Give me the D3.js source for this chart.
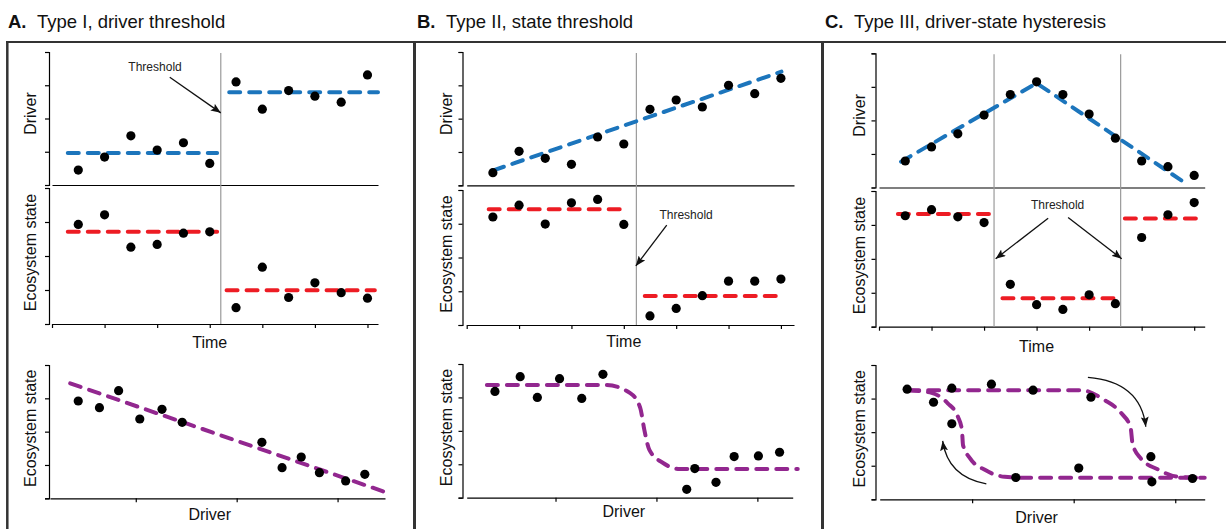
<!DOCTYPE html>
<html>
<head>
<meta charset="utf-8">
<script src="https://cdnjs.cloudflare.com/ajax/libs/d3/7.8.5/d3.min.js"></script>
<style>
  body { margin: 0; background: #fff; }
  svg { display: block; font-family: "Liberation Sans", Arial, sans-serif; }
  .axis path, .axis line { stroke: #000; stroke-width: 1.2; }
</style>
</head>
<body>
<div id="chart"></div>
<script>
// Data
// ================================
var timeTicks = [0, 1, 2, 3, 4, 5, 6];
var stateTicks = [0, 1, 2, 3, 4];
var driverTicks = [1, 2, 3];
var sampleTimes = [0.5, 1, 1.5, 2, 2.5, 3, 3.5, 4, 4.5, 5, 5.5, 6];

// A. Type I, driver threshold
var aDriver = [0.45, 0.84, 1.48, 1.05, 1.27, 0.65, 3.10, 2.28, 2.84, 2.67, 2.49, 3.31];
var aDriverFit = [[[0.3, 0.96], [3.14, 0.96]], [[3.37, 2.79], [6.2, 2.79]]];
var aState = [2.93, 3.21, 2.26, 2.34, 2.67, 2.71, 0.48, 1.67, 0.78, 1.21, 0.92, 0.76];
var aStateFit = [[[0.3, 2.71], [3.14, 2.71]], [[3.32, 0.99], [6.14, 0.99]]];
var aThresholds = [3.21];
var aRespDriver = [0.43, 0.64, 0.83, 1.04, 1.26, 1.46, 2.25, 2.45, 2.64, 2.82, 3.08, 3.27];
var aRespState = [2.92, 2.72, 3.23, 2.38, 2.67, 2.28, 1.68, 0.92, 1.24, 0.77, 0.52, 0.72];
var aRespFit = [[[0.35, 3.45], [3.46, 0.2]]];

// B. Type II, state threshold
var bDriver = [0.38, 1.02, 0.81, 0.63, 1.45, 1.24, 2.28, 2.56, 2.35, 3.00, 2.75, 3.21];
var bDriverFit = [[[0.51, 0.45], [6.01, 3.41]]];
var bState = [3.20, 3.55, 2.99, 3.62, 3.72, 2.98, 0.27, 0.49, 0.87, 1.30, 1.30, 1.36];
var bStateFit = [[[0.42, 3.43], [3.02, 3.43]], [[3.4, 0.86], [5.99, 0.86]]];
var bThresholds = [3.24];
var bRespDriver = [0.40, 0.65, 0.82, 1.04, 1.26, 1.47, 2.30, 2.38, 2.59, 2.77, 3.01, 3.22];
var bRespState = [3.18, 3.62, 3.00, 3.56, 2.97, 3.69, 0.25, 0.87, 0.46, 1.23, 1.25, 1.36];
var bRespFit = [[[0.32, 3.37], [1.50, 3.37], [1.74, 3.13], [1.84, 2.68], [1.88, 2.03],
                 [1.93, 1.43], [2.07, 1.03], [2.23, 0.86], [3.40, 0.86]]];

// C. Type III, driver-state hysteresis
var cDriver = [0.79, 1.21, 1.60, 2.16, 2.77, 3.15, 2.77, 2.19, 1.47, 0.79, 0.62, 0.36];
var cDriverFit = [[[0.42, 0.77], [3.0, 3.11], [5.89, 0.07]]];
var cState = [3.27, 3.45, 3.24, 3.07, 1.25, 0.65, 0.51, 0.94, 0.68, 2.63, 3.30, 3.66];
var cStateFit = [[[0.36, 3.32], [2.19, 3.32]], [[2.35, 0.84], [4.52, 0.84]], [[4.68, 3.19], [6.14, 3.19]]];
var cThresholds = [2.19, 4.6];
var cRespDriver = [0.36, 0.62, 0.80, 0.80, 1.19, 1.60, 2.17, 1.43, 2.05, 2.76, 2.77, 3.17];
var cRespState = [3.28, 2.89, 3.31, 2.25, 3.43, 3.25, 3.04, 0.65, 0.93, 1.27, 0.52, 0.62];
var cUpper = [[0.37, 3.25], [2.07, 3.25], [2.30, 2.96], [2.47, 2.56], [2.56, 2.14], [2.58, 1.65],
              [2.66, 1.22], [2.83, 0.89], [3.03, 0.67], [3.29, 0.64]];
var cLower = [[0.37, 3.25], [0.60, 3.17], [0.76, 2.86], [0.86, 2.46], [0.90, 2.06], [0.91, 1.62],
              [0.98, 1.22], [1.13, 0.87], [1.32, 0.67], [1.52, 0.64], [3.29, 0.64]];
var cLoopArrows = [[[2.14, 3.63], [2.66, 3.5], [2.71, 2.16]], [[1.14, 0.46], [0.76, 0.67], [0.71, 1.74]]];

var panels = [
  { letter: "A.", title: "Type I, driver threshold", driver: aDriver, driverFit: aDriverFit,
    state: aState, stateFit: aStateFit, thresholds: aThresholds,
    respX: aRespDriver, respY: aRespState, respFit: aRespFit, smooth: false,
    note: { sub: "top", at: [1.96, 3.43], arrows: [[[2.24, 3.24], [3.21, 2.17]]] }, loops: [] },
  { letter: "B.", title: "Type II, state threshold", driver: bDriver, driverFit: bDriverFit,
    state: bState, stateFit: bStateFit, thresholds: bThresholds,
    respX: bRespDriver, respY: bRespState, respFit: bRespFit, smooth: true,
    note: { sub: "mid", at: [4.19, 3.14], arrows: [[[3.82, 2.96], [3.23, 1.75]]] }, loops: [] },
  { letter: "C.", title: "Type III, driver-state hysteresis", driver: cDriver, driverFit: cDriverFit,
    state: cState, stateFit: cStateFit, thresholds: cThresholds,
    respX: cRespDriver, respY: cRespState, respFit: [cUpper, cLower], smooth: true,
    note: { sub: "mid", at: [3.40, 3.46], arrows: [[[3.22, 3.2], [2.22, 2.0]], [[3.6, 3.22], [4.62, 2.0]]] },
    loops: cLoopArrows }
];

// Layout (pixels) for each panel
// ================================
var layouts = [
  { titleX: 8, yx: 49, x0: 52, x1: 378, tMax: 6.2, top: [52, 185], mid: [188, 324], bot: [365, 498.3],
    b0: 50, b1: 385, drv: [0.15, 3.47], labelX: 36, timeY: 348.3, driverY: 520 },
  { titleX: 417, yx: 462.5, x0: 466.7, x1: 794, tMax: 6.25, top: [52, 185.3], mid: [190, 325], bot: [364, 497.7],
    b0: 466.7, b1: 792.7, drv: [0.12, 3.35], labelX: 452.3, timeY: 346.7, driverY: 516.7 },
  { titleX: 825, yx: 875.5, x0: 879, x1: 1204.7, tMax: 6.2, top: [53.3, 187.5], mid: [191, 326.7], bot: [365, 499.3],
    b0: 879.7, b1: 1204.7, drv: [0.09, 3.29], labelX: 865.3, timeY: 351.7, driverY: 523.3 }
];

var blue = "#1c75bc", red = "#ed1c24", purple = "#92278f";

var svg = d3.select("#chart").append("svg")
  .attr("width", 1226)
  .attr("height", 529);

svg.append("defs").append("marker")
  .attr("id", "arrow")
  .attr("markerUnits", "userSpaceOnUse")
  .attr("viewBox", "0 0 10 8")
  .attr("markerWidth", 10)
  .attr("markerHeight", 8)
  .attr("refX", 10)
  .attr("refY", 4)
  .attr("orient", "auto")
  .append("path")
  .attr("d", "M0,0L10,4L0,8L2,4Z")
  .attr("fill", "#111");

// Panel frame
svg.append("line").attr("x1", 6).attr("x2", 1226).attr("y1", 42).attr("y2", 42)
  .attr("stroke", "#333").attr("stroke-width", 2);
[7.3, 414.5, 822.5].forEach(function(fx, i) {
  svg.append("line").attr("x1", fx).attr("x2", fx).attr("y1", 41).attr("y2", 529)
    .attr("stroke", "#333").attr("stroke-width", i === 0 ? 2.5 : 3);
});

function dashed(g, d, color) {
  return g.append("path")
    .attr("d", d)
    .attr("fill", "none")
    .attr("stroke", color)
    .attr("stroke-width", 4)
    .attr("stroke-linecap", "round")
    .attr("stroke-dasharray", "11,9");
}

panels.forEach(function(p, i) {
  var L = layouts[i];
  var g = svg.append("g");

  // Title
  var title = g.append("text").attr("x", L.titleX).attr("y", 28.3)
    .style("font-size", "18.5px").attr("fill", "#111");
  title.append("tspan").style("font-weight", "bold").text(p.letter);
  title.append("tspan").attr("x", L.titleX + 29).text(p.title);

  // Scales
  var x = d3.scaleLinear().domain([0, L.tMax]).range([L.x0, L.x1]);
  var yTop = d3.scaleLinear().domain([0, 4]).range([L.top[1], L.top[0]]);
  var yMid = d3.scaleLinear().domain([0, 4]).range([L.mid[1], L.mid[0]]);
  var xDrv = d3.scaleLinear().domain(L.drv).range([L.b0, L.b1]);
  var yBot = d3.scaleLinear().domain([0, 4]).range([L.bot[1], L.bot[0]]);

  // Axes
  [yTop, yMid, yBot].forEach(function(ys) {
    g.append("g").attr("class", "axis")
      .attr("transform", `translate(${L.yx},0)`)
      .call(d3.axisLeft(ys).tickValues(stateTicks).tickSize(4).tickFormat(""));
  });
  g.append("g").attr("class", "axis")
    .attr("transform", `translate(0,${L.top[1]})`)
    .call(d3.axisBottom(x).tickValues([]).tickSizeOuter(0));
  g.append("g").attr("class", "axis")
    .attr("transform", `translate(0,${L.mid[1]})`)
    .call(d3.axisBottom(x).tickValues(timeTicks).tickSize(4).tickSizeOuter(0).tickFormat(""));
  g.append("g").attr("class", "axis")
    .attr("transform", `translate(0,${L.bot[1]})`)
    .call(d3.axisBottom(xDrv).tickValues(driverTicks).tickSize(4).tickSizeOuter(0).tickFormat(""));

  // Threshold lines
  p.thresholds.forEach(function(t) {
    g.append("line")
      .attr("x1", x(t)).attr("x2", x(t))
      .attr("y1", L.top[0] + 1).attr("y2", L.mid[1])
      .attr("stroke", "#9a9a9a").attr("stroke-width", 1.2);
  });

  // Fitted lines
  var topLine = d3.line().x(d => x(d[0])).y(d => yTop(d[1]));
  var midLine = d3.line().x(d => x(d[0])).y(d => yMid(d[1]));
  var botLine = d3.line().x(d => xDrv(d[0])).y(d => yBot(d[1]))
    .curve(p.smooth ? d3.curveMonotoneX : d3.curveLinear);
  p.driverFit.forEach(function(seg) { dashed(g, topLine(seg), blue); });
  p.stateFit.forEach(function(seg) { dashed(g, midLine(seg), red); });
  p.respFit.forEach(function(seg) { dashed(g, botLine(seg), purple); });

  // Points
  g.selectAll(null).data(sampleTimes).enter().append("circle")
    .attr("cx", d => x(d))
    .attr("cy", (d, j) => yTop(p.driver[j]))
    .attr("r", 4.6);
  g.selectAll(null).data(sampleTimes).enter().append("circle")
    .attr("cx", d => x(d))
    .attr("cy", (d, j) => yMid(p.state[j]))
    .attr("r", 4.6);
  g.selectAll(null).data(p.respX).enter().append("circle")
    .attr("cx", d => xDrv(d))
    .attr("cy", (d, j) => yBot(p.respY[j]))
    .attr("r", 4.6);

  // Threshold annotation
  var ny = p.note.sub === "top" ? yTop : yMid;
  g.append("text")
    .attr("x", x(p.note.at[0])).attr("y", ny(p.note.at[1]))
    .attr("text-anchor", "middle")
    .style("font-size", "12px").attr("fill", "#222")
    .text("Threshold");
  p.note.arrows.forEach(function(a) {
    g.append("line")
      .attr("x1", x(a[0][0])).attr("y1", ny(a[0][1]))
      .attr("x2", x(a[1][0])).attr("y2", ny(a[1][1]))
      .attr("stroke", "#111").attr("stroke-width", 1.3)
      .attr("marker-end", "url(#arrow)");
  });

  // Curved arrows round the hysteresis loop
  p.loops.forEach(function(a) {
    var path = d3.path();
    path.moveTo(xDrv(a[0][0]), yBot(a[0][1]));
    path.quadraticCurveTo(xDrv(a[1][0]), yBot(a[1][1]), xDrv(a[2][0]), yBot(a[2][1]));
    g.append("path").attr("d", path.toString())
      .attr("fill", "none").attr("stroke", "#111").attr("stroke-width", 1.3)
      .attr("marker-end", "url(#arrow)");
  });

  // Axis labels
  var ylab = function(yv, txt) {
    g.append("text")
      .attr("transform", `translate(${L.labelX},${yv}) rotate(-90)`)
      .attr("text-anchor", "middle")
      .style("font-size", "16px").attr("fill", "#111")
      .text(txt);
  };
  ylab(yTop(2.15), "Driver");
  ylab(yMid(2.1), "Ecosystem state");
  ylab(yBot(2.1), "Ecosystem state");

  g.append("text").attr("x", x(3)).attr("y", L.timeY)
    .attr("text-anchor", "middle").style("font-size", "16px").attr("fill", "#111")
    .text("Time");
  g.append("text").attr("x", x(3)).attr("y", L.driverY)
    .attr("text-anchor", "middle").style("font-size", "16px").attr("fill", "#111")
    .text("Driver");
});
</script>
</body>
</html>
